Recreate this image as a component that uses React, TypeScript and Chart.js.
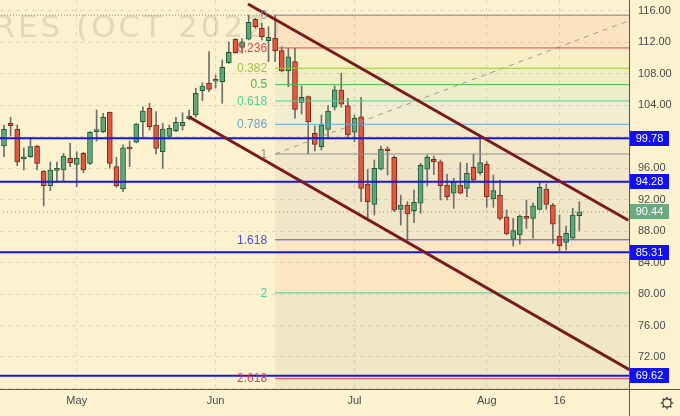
import React, { useEffect, useRef } from 'react';
import { Chart, registerables } from 'chart.js';

Chart.register(...registerables);

// ---------- data ----------
const dates = [
  '04-14', '04-18', '04-19', '04-20', '04-21', '04-22', '04-25', '04-26', '04-27', '04-28', '04-29',
  '05-02', '05-03', '05-04', '05-05', '05-06', '05-09', '05-10', '05-11', '05-12', '05-13', '05-16', '05-17', '05-18', '05-19', '05-20', '05-23', '05-24', '05-25', '05-26', '05-27', '05-31',
  '06-01', '06-02', '06-03', '06-06', '06-07', '06-08', '06-09', '06-10', '06-13', '06-14', '06-15', '06-16', '06-17', '06-21', '06-22', '06-23', '06-24', '06-27', '06-28', '06-29', '06-30',
  '07-01', '07-05', '07-06', '07-07', '07-08', '07-11', '07-12', '07-13', '07-14', '07-15', '07-18', '07-19', '07-20', '07-21', '07-22', '07-25', '07-26', '07-27', '07-28', '07-29',
  '08-01', '08-02', '08-03', '08-04', '08-05', '08-08', '08-09', '08-10', '08-11', '08-12', '08-15', '08-16', '08-17', '08-18', '08-19',
];

const opens = [
  98.81, 101.69, 100.93, 97.19, 97.45, 98.81, 95.63, 93.76, 95.72, 95.76,
  97.24, 96.48, 97.88, 96.61, 100.63, 100.63, 103.09, 96.18, 93.34, 98.59,
  99.28, 101.9, 103.6, 101.48, 98.08, 100.04, 100.75, 101.35, 102.28, 102.75,
  105.83, 106.78, 107.03, 106.98, 109.39, 112.37, 111.35, 112.37, 114.91, 113.76,
  112.19, 112.49, 110.92, 108.38, 109.52, 104.34, 105.1, 100.42, 98.72, 100.93,
  103.73, 105.92, 103.93, 100.55, 102.53, 93.98, 91.4, 95.85, 98.43, 97.37,
  90.76, 91.31, 90.59, 91.53, 95.85, 97.12, 96.81, 93.85, 92.8, 93.85,
  93.43, 96.1, 95.42, 96.48, 92.07, 92.58, 89.82, 86.95, 87.5, 89.82,
  89.62, 90.76, 93.34, 91.31, 87.37, 86.57, 87.08, 89.95,
];
const highs = [
  101.48, 102.45, 101.48, 98.59, 99.91, 98.9, 95.7, 96.78, 96.78, 97.88,
  99.15, 98.08, 98.0, 100.65, 103.38, 102.96, 103.13, 97.37, 98.97, 99.44,
  101.7, 103.8, 104.23, 103.17, 101.69, 101.48, 102.45, 103.04, 103.38, 106.14,
  106.85, 110.79, 107.83, 109.74, 112.06, 112.45, 112.45, 115.45, 115.03, 114.4,
  113.97, 115.43, 111.43, 111.22, 111.22, 106.43, 105.16, 101.35, 102.75, 103.95,
  106.43, 108.05, 104.87, 102.75, 105.0, 95.85, 97.03, 98.81, 98.72, 97.54,
  92.58, 91.73, 93.22, 96.61, 97.66, 97.54, 97.03, 95.21, 94.7, 96.69,
  96.61, 97.79, 99.99, 96.81, 95.12, 94.49, 90.68, 89.62, 90.04, 91.95,
  91.6, 94.27, 93.98, 91.53, 90.04, 88.64, 90.89, 91.73,
];
const lows = [
  97.45, 100.12, 96.3, 95.76, 97.37, 95.76, 91.18, 93.13, 94.4, 94.4,
  96.18, 93.64, 95.42, 96.45, 99.44, 100.5, 95.97, 93.56, 93.0, 96.18,
  99.2, 99.79, 100.84, 97.79, 95.97, 99.95, 100.63, 100.84, 102.11, 102.45,
  104.56, 105.71, 106.18, 104.23, 109.3, 110.59, 110.59, 112.28, 113.76, 112.28,
  109.52, 109.52, 108.25, 106.34, 102.33, 102.87, 97.86, 98.17, 98.3, 99.79,
  103.38, 103.73, 99.79, 99.35, 91.73, 89.41, 90.04, 95.76, 95.12, 90.46,
  88.77, 86.86, 89.06, 90.26, 93.73, 95.21, 91.95, 91.95, 90.89, 92.71,
  92.37, 94.27, 95.12, 91.02, 91.02, 89.41, 87.5, 86.1, 86.36, 88.35,
  87.08, 90.68, 90.76, 86.44, 85.5, 85.59, 86.95, 88.01,
];
const closes = [
  100.93, 101.39, 96.78, 97.32, 98.72, 96.61, 93.76, 95.76, 95.97, 97.54,
  96.69, 97.24, 95.76, 100.55, 100.8, 102.45, 96.61, 93.76, 98.59, 98.43,
  101.6, 103.26, 101.26, 98.49, 100.97, 101.06, 101.82, 101.82, 102.62, 105.5,
  106.43, 106.01, 107.28, 108.81, 110.71, 110.66, 112.06, 114.53, 113.97, 112.7,
  112.62, 110.92, 108.38, 110.15, 103.47, 105.0, 101.9, 99.0, 101.48, 103.26,
  105.96, 104.11, 100.21, 102.33, 93.43, 91.73, 95.97, 98.39, 98.21, 90.68,
  91.31, 90.17, 91.65, 96.36, 97.37, 96.81, 93.76, 92.37, 94.27, 92.8,
  95.34, 94.49, 96.69, 92.37, 93.13, 89.62, 87.63, 88.05, 89.91, 89.62,
  91.22, 93.56, 91.4, 88.86, 86.14, 87.72, 90.04, 90.44,
];

const tickDates = ['05-02', '06-01', '07-01', '08-01', '08-16'];
const tickLabels = ['May', 'Jun', 'Jul', 'Aug', '16'];

const keyLevels = [99.78, 94.28, 85.31, 69.62];
const lastPrice = 90.44;
const topLine = 115.43;
const hiddenPriceTicks = [68, 100];

// Fibonacci retracement: anchor A (level 1) and anchor B (level 0), as [bar index, price]
const fibAnchorA = [41, 97.79];
const fibAnchorB = [96.7, 115.43];
const fibLevels = [0, 0.236, 0.382, 0.5, 0.618, 0.786, 1, 1.618, 2, 2.618, 3.618];
const fibLabels = ['0', '0.236', '0.382', '0.5', '0.618', '0.786', '1', '1.618', '2', '2.618', '3.618'];
const fibColors = ['#8a8d96', '#e8404a', '#9cc53a', '#47b84c', '#52cf9c', '#5aaad8', '#8a8d96', '#4b4be6', '#4fd0a0', '#e8404a', '#9c27b0'];
const fibBands = [
  'rgba(245,120,90,0.12)',
  'rgba(200,215,60,0.07)',
  'rgba(76,175,80,0.08)',
  'rgba(40,170,130,0.07)',
  'rgba(100,181,246,0.08)',
  'rgba(120,123,134,0.07)',
  'rgba(120,123,134,0.09)',
  'rgba(245,130,80,0.10)',
  'rgba(110,130,100,0.09)',
  'rgba(110,130,100,0.09)',
];

// Channel lines as [bar index, price]
const upperChannel = [[36.9, 116.85], [94.4, 89.38]];
const lowerChannel = [[28, 102.49], [94.7, 70.31]];

const X_MIN = -0.605;
const X_MAX = 94.51;
const Y_MIN = 67.93;
const Y_MAX = 117.36;

const BG = '#fdf2cf';
const FONT = "'Liberation Sans', Arial, sans-serif";

export default function App() {
  const ref = useRef<HTMLCanvasElement>(null);

  useEffect(() => {
    const canvas = ref.current;
    if (!canvas) return;
    Chart.defaults.font.family = FONT;

    const fibRange = fibAnchorB[1] - fibAnchorA[1];
    const fibPrice = (l: number) => fibAnchorB[1] - l * fibRange;
    const FAR = 200;

    const fibDatasets = fibLevels.map((l, k) => ({
      type: 'line' as const,
      data: [{ x: fibAnchorA[0], y: fibPrice(l) }, { x: FAR, y: fibPrice(l) }],
      borderColor: fibColors[k],
      borderWidth: 1,
      pointRadius: 0,
      fill: k === 0 ? false : '-1',
      backgroundColor: k === 0 ? 'transparent' : fibBands[k - 1],
      order: 2,
      clip: 0,
    }));

    const hline = (y: number, color: string, width: number, dash: number[], order: number) => ({
      type: 'line' as const,
      data: [{ x: -5, y }, { x: FAR, y }],
      borderColor: color,
      borderWidth: width,
      borderDash: dash,
      pointRadius: 0,
      fill: false,
      order,
      clip: 0,
    });

    const seg = (pts: number[][], color: string, width: number, dash: number[], order: number) => ({
      type: 'line' as const,
      data: pts.map((p) => ({ x: p[0], y: p[1] })),
      borderColor: color,
      borderWidth: width,
      borderDash: dash,
      pointRadius: 0,
      fill: false,
      order,
      clip: 0,
    });

    const up = (i: number) => closes[i] >= opens[i];

    const datasets: any[] = [
      ...fibDatasets,
      hline(topLine, '#8c8c8c', 1, [1, 2], 2),
      hline(lastPrice, '#4f9a69', 1, [1, 3], 2),
      seg([fibAnchorA, fibAnchorB], '#9a9a9a', 1, [5, 5], 2),
      ...keyLevels.map((v) => hline(v, '#1414ee', 2, [], 1)),
      seg(upperChannel, '#7a1a1e', 3, [], 0),
      seg(lowerChannel, '#7a1a1e', 3, [], 0),
      {
        type: 'bar',
        data: dates.map((_, i) => ({ x: i, y: [lows[i], highs[i]] })),
        backgroundColor: '#6e6e6e',
        borderWidth: 0,
        barThickness: 1,
        grouped: false,
        order: 4,
        clip: 0,
      },
      {
        type: 'bar',
        data: dates.map((_, i) => ({ x: i, y: [opens[i], closes[i]] })),
        backgroundColor: (c: any) => (up(c.dataIndex) ? '#61a67b' : '#de5842'),
        borderColor: (c: any) => (up(c.dataIndex) ? '#1f5c35' : '#862717'),
        borderWidth: 1,
        borderSkipped: false,
        barThickness: 5,
        minBarLength: 2,
        grouped: false,
        order: 3,
        clip: 0,
      },
    ];

    const bgPlugin = {
      id: 'bgPlugin',
      beforeDraw(chart: any) {
        const { ctx } = chart;
        ctx.save();
        ctx.fillStyle = BG;
        ctx.fillRect(0, 0, chart.width, chart.height);
        ctx.font = "31px 'DejaVu Sans'";
        try { (ctx as any).letterSpacing = '3px'; } catch (e) { /* ignore */ }
        ctx.fillStyle = 'rgba(120,110,90,0.2)';
        ctx.textAlign = 'right';
        ctx.textBaseline = 'alphabetic';
        ctx.fillText('FUTURES (OCT 2022)', 284, 37);
        ctx.restore();
      },
    };

    const overlayPlugin = {
      id: 'overlayPlugin',
      afterDatasetsDraw(chart: any) {
        const { ctx, chartArea } = chart;
        const xs = chart.scales.x;
        const ys = chart.scales.y;
        ctx.save();
        // fib labels
        ctx.font = `12px ${FONT}`;
        ctx.textAlign = 'right';
        ctx.textBaseline = 'middle';
        const lx = xs.getPixelForValue(fibAnchorA[0]) - 8;
        fibLevels.forEach((l, k) => {
          const y = ys.getPixelForValue(fibPrice(l));
          if (y < chartArea.top || y > chartArea.bottom) return;
          ctx.fillStyle = fibColors[k];
          ctx.fillText(fibLabels[k], lx, y + 0.5);
        });
        // axis frame
        ctx.strokeStyle = '#555';
        ctx.lineWidth = 1;
        ctx.beginPath();
        ctx.moveTo(chartArea.right + 0.5, 0);
        ctx.lineTo(chartArea.right + 0.5, chart.height);
        ctx.moveTo(0, chartArea.bottom + 0.5);
        ctx.lineTo(chart.width, chartArea.bottom + 0.5);
        ctx.stroke();
        // price labels
        const box = (v: number, fill: string) => {
          const y = ys.getPixelForValue(v);
          ctx.fillStyle = fill;
          ctx.fillRect(chartArea.right + 1, Math.round(y - 7.5), 39, 15);
          ctx.fillStyle = '#ffffff';
          ctx.font = `11px ${FONT}`;
          ctx.textAlign = 'center';
          ctx.textBaseline = 'middle';
          ctx.fillText(v.toFixed(2), chartArea.right + 20.5, y + 0.5);
        };
        keyLevels.forEach((v) => box(v, '#1010f2'));
        box(lastPrice, '#6ca882');
        // gear icon
        const cx = 667, cy = 403;
        ctx.strokeStyle = '#333';
        ctx.lineWidth = 1.2;
        ctx.beginPath();
        ctx.arc(cx, cy, 4.2, 0, Math.PI * 2);
        ctx.stroke();
        for (let k = 0; k < 8; k++) {
          const a = (k * Math.PI) / 4;
          ctx.beginPath();
          ctx.moveTo(cx + Math.cos(a) * 4.2, cy + Math.sin(a) * 4.2);
          ctx.lineTo(cx + Math.cos(a) * 6.3, cy + Math.sin(a) * 6.3);
          ctx.stroke();
        }
        ctx.restore();
      },
    };

    const chart = new Chart(canvas, {
      type: 'bar',
      data: { datasets },
      options: {
        responsive: false,
        animation: false,
        devicePixelRatio: 1,
        events: [],
        layout: { padding: 0 },
        plugins: {
          legend: { display: false },
          tooltip: { enabled: false },
          filler: { drawTime: 'beforeDatasetsDraw' },
        } as any,
        scales: {
          x: {
            type: 'linear',
            min: X_MIN,
            max: X_MAX,
            offset: false,
            position: 'bottom',
            afterFit: (s: any) => {
              s.height = 27;
              s.paddingLeft = 0;
              s.paddingRight = 0;
              s.paddingTop = 0;
              s.paddingBottom = 0;
            },
            afterBuildTicks: (s: any) => {
              s.ticks = tickDates.map((d) => ({ value: dates.indexOf(d) }));
            },
            ticks: {
              autoSkip: false,
              maxRotation: 0,
              padding: 5,
              color: '#4a4a4a',
              font: { size: 11, family: FONT },
              callback: (_v: any, i: number) => tickLabels[i],
            },
            grid: { color: 'rgba(110,110,120,0.2)', drawTicks: false, offset: false, lineWidth: 1 },
            border: { display: false, dash: [4, 4] },
          },
          y: {
            type: 'linear',
            position: 'right',
            min: Y_MIN,
            max: Y_MAX,
            beginAtZero: false,
            afterFit: (s: any) => {
              s.width = 51;
              s.paddingTop = 0;
              s.paddingBottom = 0;
              s.paddingLeft = 0;
              s.paddingRight = 0;
            },
            ticks: {
              stepSize: 4,
              includeBounds: false,
              padding: 9,
              color: '#4a4a4a',
              font: { size: 11, family: FONT },
              callback: (v: any) => (hiddenPriceTicks.includes(Number(v)) ? '' : Number(v).toFixed(2)),
            },
            grid: { color: 'rgba(110,110,120,0.2)', drawTicks: false, lineWidth: 1 },
            border: { display: false, dash: [4, 4] },
          },
        } as any,
      },
      plugins: [bgPlugin, overlayPlugin],
    } as any);

    return () => chart.destroy();
  }, []);

  return (
    <div style={{ position: 'fixed', left: 0, top: 0, width: 680, height: 416 }}>
      <canvas ref={ref} width={680} height={416} style={{ display: 'block', width: 680, height: 416 }} />
    </div>
  );
}
